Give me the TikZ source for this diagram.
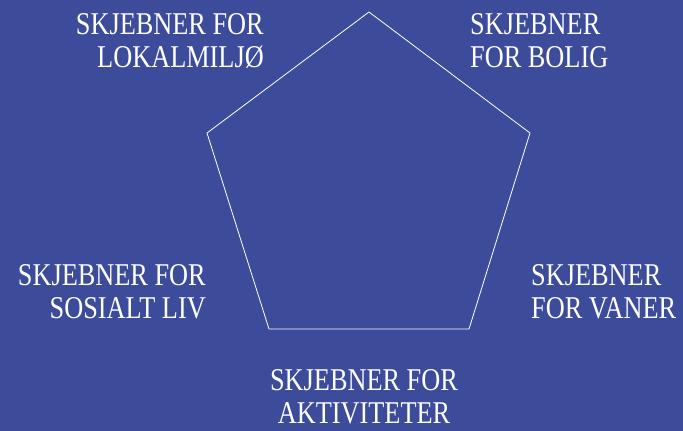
\documentclass[tikz,border=0pt]{standalone}
\usepackage{fontspec}
\setmainfont{Liberation Serif}[FakeStretch=0.83]
\usepackage{tikz}
\usetikzlibrary{positioning}
\definecolor{DeepBlue}{RGB}{61, 75, 155}

\begin{document}
\begin{tikzpicture}[x=1pt, y=-1pt,
    skjebne/.style={text=white, inner sep=0pt, font=\fontsize{31.7}{33}\selectfont}]
      % Background
      \fill[DeepBlue] (0,0) rectangle (683,431);
      \useasboundingbox (0,0) rectangle (683,431);

      % Pentagon corners
      \coordinate (top) at (369,12);
      \coordinate (right) at (530,133);
      \coordinate (botright) at (469,329);
      \coordinate (botleft) at (269,329);
      \coordinate (left) at (207,133);
      \draw[white, line width=0.8pt] (top) -- (right) -- (botright) -- (botleft) -- (left) -- cycle;

      % Labels (anchored at the baseline of the second line)
      \node[skjebne, align=right, anchor=base east] (lokal) at (264,67) {SKJEBNER FOR\\LOKALMILJØ};
      \node[skjebne, align=left, anchor=base west] (bolig) at (470,67) {SKJEBNER\\FOR BOLIG};
      \node[skjebne, align=right, anchor=base east] (sosial) at (206,318) {SKJEBNER FOR\\SOSIALT LIV};
      \node[skjebne, align=left, anchor=base west] (vaner) at (531,318) {SKJEBNER\\FOR VANER};
      \node[skjebne, align=center, anchor=base] (aktiv) at (364,423) {SKJEBNER FOR\\AKTIVITETER};
    \end{tikzpicture}
\end{document}
